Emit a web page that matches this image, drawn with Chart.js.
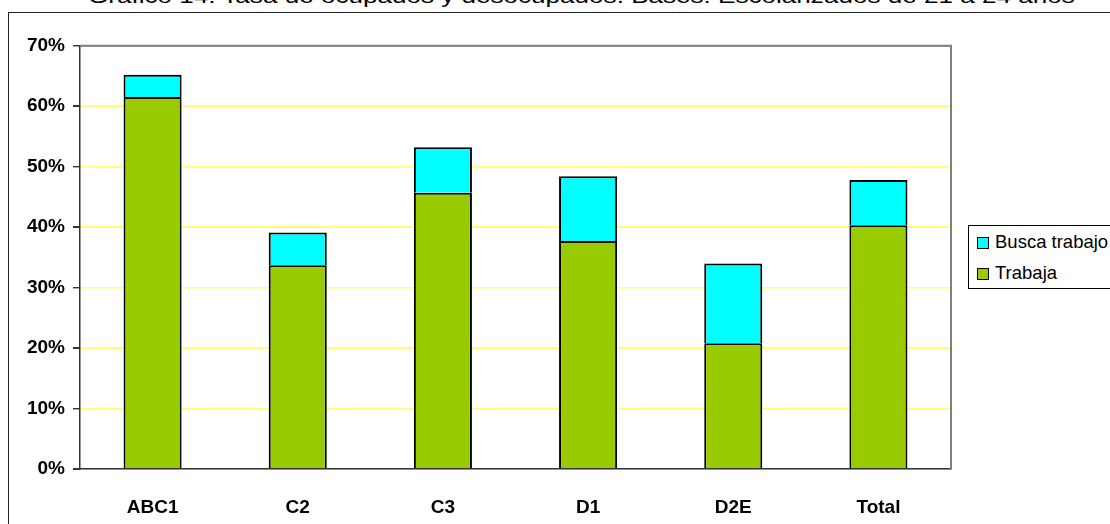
<!DOCTYPE html>
<html>
<head>
<meta charset="utf-8">
<script src="https://cdn.jsdelivr.net/npm/chart.js@4.4.0/dist/chart.umd.min.js"></script>
<style>
  html, body { margin: 0; padding: 0; background: #fff; overflow: hidden; }
  body { width: 1110px; height: 524px; position: relative; font-family: "Liberation Sans", Arial, sans-serif; }
  #title { position: absolute; top: -14px; left: 88px; font-size: 20px; line-height: 20px; white-space: nowrap; color: #000; transform-origin: 0 0; }
  #frame { position: absolute; left: 8px; top: 12px; width: 1200px; height: 600px; border: 1.5px solid #222; }
  #wrap { position: absolute; left: 0; top: 0; width: 1110px; height: 524px; }
  #legend { position: absolute; left: 968px; top: 225px; width: 170px; height: 62px; border: 1px solid #000; background: #fff; }
  .item { position: absolute; left: 8px; font-size: 18.5px; line-height: 20px; white-space: nowrap; }
  .item span { display: inline-block; width: 10px; height: 10px; border: 1px solid #000; margin-right: 6px; vertical-align: -1px; }
</style>
</head>
<body>
<div id="title">Gráfico 14: Tasa de ocupados y desocupados. Bases: Escolarizados de 21 a 24 años</div>
<div id="frame"></div>
<div id="wrap"><canvas id="chart"></canvas></div>
<div id="legend"></div>
<script>
// datos (%)
const categorias = ['ABC1', 'C2', 'C3', 'D1', 'D2E', 'Total'];
const trabaja = [61.5, 33.7, 45.7, 37.7, 20.8, 40.3];
const buscaTrabajo = [3.7, 5.4, 7.5, 10.7, 13.2, 7.5];
const yTicks = [0, 10, 20, 30, 40, 50, 60, 70];

// título: estirar al ancho del original (letras anchas)
const title = document.getElementById('title');
title.style.transform = 'scaleX(' + (987 / title.offsetWidth) + ')';

// marco del área de trazado (arriba y derecha en gris)
const plotFrame = {
    id: 'plotFrame',
    beforeDatasetsDraw(chart) {
        const a = chart.chartArea;
        const c = chart.ctx;
        c.save();
        c.strokeStyle = '#808080';
        c.lineWidth = 2;
        c.beginPath();
        c.moveTo(a.left, a.top);
        c.lineTo(a.right, a.top);
        c.lineTo(a.right, a.bottom);
        c.stroke();
        c.restore();
    }
};

const ctx = document.getElementById('chart').getContext('2d');
const chart = new Chart(ctx, {
    type: 'bar',
    data: {
        labels: categorias,
        datasets: [
            { label: 'Trabaja', data: trabaja, backgroundColor: '#99CC00', borderColor: '#000', borderWidth: 2 },
            { label: 'Busca trabajo', data: buscaTrabajo, backgroundColor: '#00FFFF', borderColor: '#000', borderWidth: 2 }
        ]
    },
    options: {
        responsive: true,
        maintainAspectRatio: false,
        animation: false,
        layout: { padding: { left: 0, top: 45.7, right: 159, bottom: 0 } },
        datasets: { bar: { categoryPercentage: 0.8, barPercentage: 0.5 } },
        plugins: { legend: { display: false }, tooltip: { enabled: false } },
        scales: {
            x: {
                stacked: true,
                afterFit: s => { s.height = 55; },
                border: { color: '#333', width: 1.5 },
                grid: { display: false },
                ticks: { color: '#000', padding: 19, font: { family: '"Liberation Sans", Arial', size: 19, weight: 'bold' } }
            },
            y: {
                stacked: true,
                min: yTicks[0],
                max: yTicks[yTicks.length - 1],
                afterFit: s => { s.width = 80; },
                afterBuildTicks: s => { s.ticks = yTicks.map(v => ({ value: v })); },
                border: { color: '#333', width: 1.5 },
                grid: {
                    color: c => c.index === yTicks.length - 1 ? '#808080' : '#FFFF70',
                    lineWidth: c => (c.index % 2 === 0 ? 2 : 1.4),
                    tickColor: '#333',
                    tickLength: 7
                },
                ticks: {
                    color: '#000',
                    padding: 8,
                    font: { family: '"Liberation Sans", Arial', size: 19, weight: 'bold' },
                    callback: v => v + '%'
                }
            }
        }
    },
    plugins: [plotFrame]
});

// leyenda (orden inverso, como en el original)
const legend = document.getElementById('legend');
chart.data.datasets.slice().reverse().forEach((ds, i) => {
    const d = document.createElement('div');
    d.className = 'item';
    d.style.top = (6 + i * 31) + 'px';
    d.innerHTML = '<span style="background:' + ds.backgroundColor + '"></span>' + ds.label;
    legend.appendChild(d);
});
</script>
</body>
</html>
